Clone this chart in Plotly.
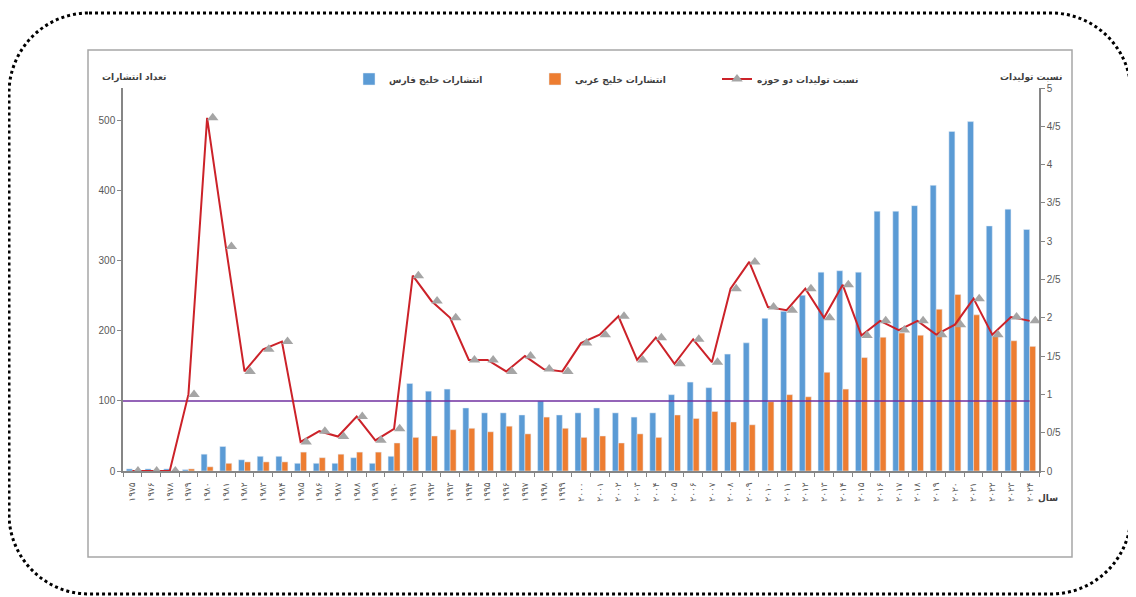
import plotly.graph_objects as go

# ---------------- data ----------------
years = [1975, 1976] + list(range(1978, 2025))
persian_digits = str.maketrans("0123456789", "۰۱۲۳۴۵۶۷۸۹")
year_labels = [str(y).translate(persian_digits) for y in years]

persian_gulf = [3, 3, 3, 2, 24, 35, 16, 21, 21, 11, 11, 11, 19, 11, 21, 125,
                114, 117, 90, 83, 83, 80, 100, 80, 83, 90, 83, 77, 83, 109, 127, 119,
                167, 183, 218, 228, 251, 284, 286, 284, 371, 371, 379, 408, 485, 499,
                350, 374, 345]
arabian_gulf = [0, 0, 0, 3, 6, 11, 13, 13, 13, 27, 19, 24, 27, 27, 40, 48,
                50, 59, 61, 56, 64, 53, 77, 61, 48, 50, 40, 53, 48, 80, 75, 85,
                70, 66, 99, 109, 106, 141, 117, 162, 191, 197, 194, 231, 252, 223,
                192, 186, 178]
ratio = [0, 0, 0, 1.0, 4.61, 2.93, 1.30, 1.59, 1.69, 0.38, 0.52, 0.45, 0.71, 0.40, 0.55, 2.55,
         2.22, 2.0, 1.45, 1.45, 1.30, 1.50, 1.33, 1.30, 1.67, 1.78, 2.02, 1.45, 1.74, 1.40, 1.72, 1.42,
         2.38, 2.73, 2.14, 2.10, 2.38, 2.0, 2.43, 1.77, 1.96, 1.84, 1.96, 1.78, 1.91, 2.25,
         1.78, 2.01, 1.96]
threshold = 100

left_ticks = [0, 100, 200, 300, 400, 500]
right_ticks = [0, 0.5, 1, 1.5, 2, 2.5, 3, 3.5, 4, 4.5, 5]
right_tick_text = ["0", "0/5", "1", "1/5", "2", "2/5", "3", "3/5", "4", "4/5", "5"]

name_pg = "انتشارات خلیج فارس"
name_ag = "انتشارات خلیج عربی"
name_ratio = "نسبت تولیدات دو حوزه"
title_left = "تعداد انتشارات"
title_right = "نسبت تولیدات"
title_x = "سال"

# ---------------- layout geometry (page pixel coords) ----------------
O = 8                      # default body margin of the html page
W, H = 1136 - O, 597 - O   # figure size
L, R, T, B = 123, 1039, 88, 471


def px(x):
    return (x - L) / (R - L)


def py(y):
    return (B - y) / (B - T)


def P(x, y):
    return f"{px(x):.5f},{py(y):.5f}"


def rounded_path(x0, y0, x1, y1, r):
    k = 0.5523 * r
    return (f"M{P(x0 + r, y0)} L{P(x1 - r, y0)} "
            f"C{P(x1 - r + k, y0)} {P(x1, y0 + r - k)} {P(x1, y0 + r)} "
            f"L{P(x1, y1 - r)} "
            f"C{P(x1, y1 - r + k)} {P(x1 - r + k, y1)} {P(x1 - r, y1)} "
            f"L{P(x0 + r, y1)} "
            f"C{P(x0 + r - k, y1)} {P(x0, y1 - r + k)} {P(x0, y1 - r)} "
            f"L{P(x0, y0 + r)} "
            f"C{P(x0, y0 + r - k)} {P(x0 + r - k, y0)} {P(x0 + r, y0)} Z")


xs = list(range(len(years)))
n = len(years)

AX = "#868686"
TXT = "#595959"
FONT = "DejaVu Sans"
TITLE_FONT = dict(family=FONT, size=9, color="#404040", weight="bold")

fig = go.Figure()
fig.add_trace(go.Bar(x=xs, y=persian_gulf, name=name_pg, marker_color="#5B9BD5",
                     legend="legend"))
fig.add_trace(go.Bar(x=xs, y=arabian_gulf, name=name_ag, marker_color="#ED7D31",
                     legend="legend2"))
fig.add_trace(go.Scatter(x=[-0.5, n - 1], y=[threshold, threshold], mode="lines",
                         line=dict(color="#7030A0", width=1.5), showlegend=False,
                         hoverinfo="skip"))
fig.add_trace(go.Scatter(x=xs, y=ratio, yaxis="y2", mode="lines",
                         line=dict(color="#CC2229", width=2), showlegend=False))
fig.add_trace(go.Scatter(x=xs, y=ratio, xaxis="x3", yaxis="y2", mode="markers",
                         marker=dict(symbol="triangle-up", size=10, color="#A5A5A5"),
                         showlegend=False))
fig.add_trace(go.Scatter(x=[None], y=[None], yaxis="y2", mode="lines+markers", name=name_ratio,
                         line=dict(color="#CC2229", width=2),
                         marker=dict(symbol="triangle-up", size=10, color="#A5A5A5"),
                         legend="legend3"))

legend_common = dict(orientation="h", yanchor="middle", y=py(79), xanchor="left",
                     bgcolor="rgba(0,0,0,0)", font=TITLE_FONT)

fig.update_layout(
    width=W, height=H,
    margin=dict(l=L - O, r=W - (R - O), t=T - O, b=H - (B - O), autoexpand=False),
    paper_bgcolor="white", plot_bgcolor="white",
    barmode="group", bargap=0.36, bargroupgap=0,
    font=dict(family=FONT, color=TXT),
    xaxis=dict(range=[-0.5, n - 0.5], tickmode="array", tickvals=xs, ticktext=year_labels,
               tickangle=-90, ticks="", showline=True, linecolor=AX, linewidth=1.5,
               showgrid=False, zeroline=False, ticklabelstandoff=6, automargin=False,
               tickfont=dict(family=FONT, size=9, color=TXT),
               minor=dict(tickmode="array", tickvals=[i + 0.5 for i in range(-1, n)],
                          ticks="outside", ticklen=4, tickcolor=AX, showgrid=False)),
    xaxis3=dict(range=[-0.5 - 0.3, n - 0.5 - 0.3], overlaying="x", visible=False),
    yaxis=dict(range=[0, 547], tickmode="array", tickvals=left_ticks, ticks="outside",
               ticklen=4, tickcolor=AX, showline=True, linecolor=AX, linewidth=1.5,
               showgrid=False, zeroline=False, automargin=False,
               tickfont=dict(family="Liberation Sans", size=10, color=TXT)),
    yaxis2=dict(range=[0, 5], tickmode="array", tickvals=right_ticks, ticktext=right_tick_text,
                overlaying="y", side="right", ticks="outside", ticklen=4, tickcolor=AX,
                showline=True, linecolor=AX, linewidth=1.5, showgrid=False, zeroline=False,
                automargin=False,
                tickfont=dict(family="Liberation Sans", size=10, color=TXT)),
    legend=dict(legend_common, x=px(349)),
    legend2=dict(legend_common, x=px(535)),
    legend3=dict(legend_common, x=px(717)),
    shapes=[
        dict(type="rect", xref="paper", yref="paper", x0=px(88), x1=px(1072),
             y0=py(557), y1=py(50), line=dict(color="#A6A6A6", width=1.5)),
        dict(type="path", xref="paper", yref="paper",
             path=rounded_path(9, 13, 1131, 594, 80),
             line=dict(color="black", width=3, dash="dot")),
    ],
    annotations=[
        dict(text=title_left, xref="paper", yref="paper", x=px(100), y=py(70),
             xanchor="left", align="left", showarrow=False, font=TITLE_FONT),
        dict(text=title_right, xref="paper", yref="paper", x=px(998), y=py(70),
             xanchor="left", align="left", showarrow=False, font=TITLE_FONT),
        dict(text=title_x, xref="paper", yref="paper", x=px(1036), y=py(505),
             xanchor="left", align="left", showarrow=False, font=TITLE_FONT),
    ],
)

fig.write_html("out.html")
